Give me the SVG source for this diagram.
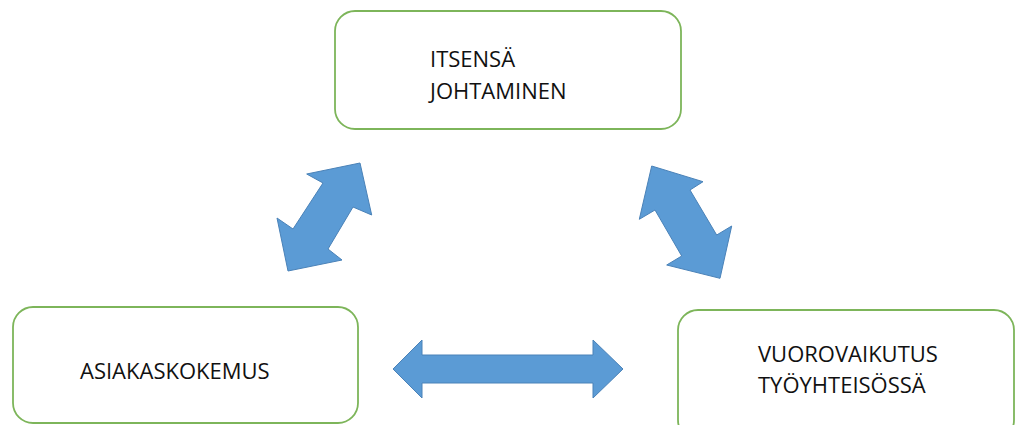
<svg xmlns="http://www.w3.org/2000/svg" width="1016" height="425" viewBox="0 0 1016 425">
<style>
.box{fill:#fff;stroke:#7DB55A;stroke-width:1.8}
.arr{fill:#5B9BD5;stroke:#4A82B8;stroke-width:1}
.t{font-family:"Open Sans","Liberation Sans",sans-serif;font-size:22px;fill:#111}
</style>
<rect width="1016" height="425" fill="#fff"/>
<g id="node-itsensa">
<rect class="box" x="335" y="11" width="346" height="118" rx="20"/>
<text class="t" x="430" y="67">ITSENSÄ</text>
<text class="t" x="430" y="99">JOHTAMINEN</text>
</g>
<g id="node-asiakaskokemus">
<rect class="box" x="13" y="307" width="345" height="116" rx="20"/>
<text class="t" x="80" y="379">ASIAKASKOKEMUS</text>
</g>
<g id="node-vuorovaikutus">
<rect class="box" x="678" y="310" width="336" height="130" rx="20"/>
<text class="t" x="758" y="362">VUOROVAIKUTUS</text>
<text class="t" x="758" y="393">TYÖYHTEISÖSSÄ</text>
</g>
<g id="connectors">
<polygon class="arr" points="360,163 371.7,215 353,207 328,249 342,260 288,271 277,218 293,229 323,183 306.7,174"/>
<polygon class="arr" points="651.7,166 703,181.7 690,190 716.7,235 731.7,226 720,278.3 666.7,265 681.7,256 655,210 639.3,219.3"/>
<polygon class="arr" points="393,369 422,340 422,355 593,355 593,340 623,369 593,398 593,383 422,383 422,398"/>
</g>
</svg>
